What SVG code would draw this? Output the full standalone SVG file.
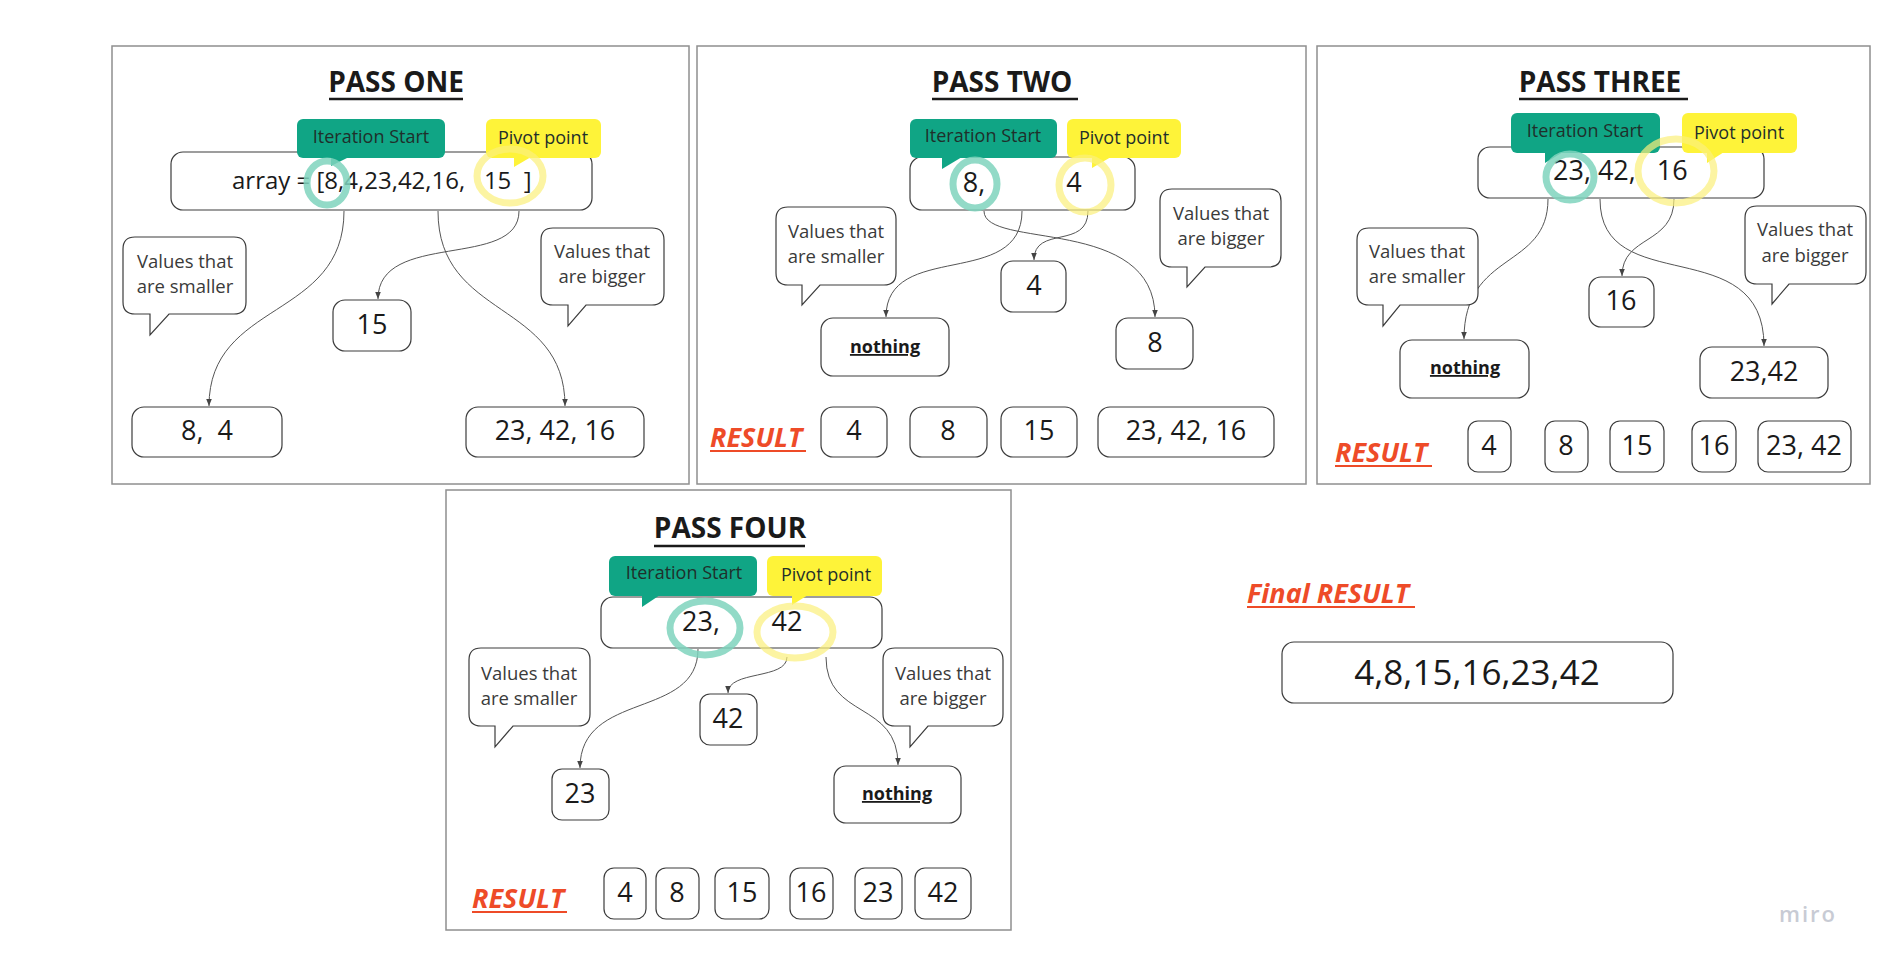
<svg xmlns="http://www.w3.org/2000/svg" width="1882" height="967" viewBox="0 0 1882 967">
<style>
text{font-family:"Open Sans","Liberation Sans",sans-serif}
.frame{fill:none;stroke:#8f8f8f;stroke-width:1.5}
.box{fill:#fff;stroke:#3c3c3c;stroke-width:1.2}
.bub{fill:#fff;stroke:#3c3c3c;stroke-width:1.2}
.title{font-weight:700;font-size:28px;fill:#1a1a1a;text-anchor:middle}
.ul{stroke:#1a1a1a;stroke-width:2.5}
.num{font-size:27px;fill:#1a1a1a;text-anchor:middle}
.big{font-size:35px;fill:#1a1a1a;text-anchor:middle}
.bt{font-size:18.5px;fill:#3a3a3a;text-anchor:middle}
.tagt{font-size:18px;fill:#1f2f2b;text-anchor:middle}
.teal{fill:#10a585}
.yel{fill:#fef339}
.inkT{fill:none;stroke:#7fd3bd;stroke-width:7;opacity:0.85}
.inkY{fill:none;stroke:#fbf07a;stroke-width:7;opacity:0.7}
.res{font-weight:700;font-style:italic;font-size:27px;fill:#ee4b28}
.resl{stroke:#ee4b28;stroke-width:2}
.nothing{font-weight:700;font-size:18px;fill:#1a1a1a;text-anchor:middle;text-decoration:underline}
.conn{fill:none;stroke:#555;stroke-width:1;marker-end:url(#arr)}
</style>
<defs>
<marker id="arr" viewBox="0 0 10 10" refX="10" refY="5" markerWidth="7" markerHeight="7" orient="auto" markerUnits="userSpaceOnUse"><path d="M0,1 L10,5 L0,9 z" fill="#444"/></marker>
</defs>
<rect width="1882" height="967" fill="#fff"/>

<g id="frames">
<rect class="frame" x="112" y="46" width="577" height="438"/>
<rect class="frame" x="697" y="46" width="609" height="438"/>
<rect class="frame" x="1317" y="46" width="553" height="438"/>
<rect class="frame" x="446" y="490" width="565" height="440"/>
</g>

<g id="connectors">
<path class="conn" d="M344,211 C344,320 209,300 209,406"/>
<path class="conn" d="M438,211 C438,320 565,300 565,406"/>
<path class="conn" d="M519,211 C519,270 378,230 378,299"/>
<path class="conn" d="M1022,211 C1022,290 886,240 886,317"/>
<path class="conn" d="M984,211 C984,250 1155,215 1155,317"/>
<path class="conn" d="M1088,211 C1088,250 1034,225 1034,260"/>
<path class="conn" d="M1548,199 C1548,270 1464,250 1464,339"/>
<path class="conn" d="M1600,199 C1600,300 1764,230 1764,346"/>
<path class="conn" d="M1674,199 C1674,245 1622,235 1622,276"/>
<path class="conn" d="M698,649 C698,720 580,690 580,768"/>
<path class="conn" d="M787,657 C787,680 728,670 728,693"/>
<path class="conn" d="M826,657 C826,720 898,700 898,765"/>
</g>

<!-- PASS ONE -->
<g id="p1-title"><text class="title" x="396" y="92">PASS ONE</text><line class="ul" x1="329" y1="99" x2="463" y2="99"/></g>
<g id="p1-array"><rect class="box" x="171" y="152" width="421" height="58" rx="12"/><text x="232" y="189" font-size="24" fill="#1a1a1a" xml:space="preserve">array = [8,4,23,42,16,   15  ]</text></g>
<g id="p1-iter"><rect class="teal" x="297" y="119" width="148" height="39" rx="6"/><polygon class="teal" points="331,157 331,166 349,157"/><text class="tagt" x="371" y="143">Iteration Start</text></g>
<g id="p1-pivot"><rect class="yel" x="486" y="119" width="115" height="39" rx="6"/><polygon class="yel" points="514,157 514,167 531,157"/><text class="tagt" x="543" y="144">Pivot point</text></g>
<g id="p1-smaller"><path class="bub" d="M135,237 H234 Q246,237 246,249 V302 Q246,314 234,314 H169 L150,335 V314 H135 Q123,314 123,302 V249 Q123,237 135,237 Z"/><text class="bt" x="185" y="268">Values that</text><text class="bt" x="185" y="293">are smaller</text></g>
<g id="p1-bigger"><path class="bub" d="M553,228 H652 Q664,228 664,240 V293 Q664,305 652,305 H586 L568,326 V305 H553 Q541,305 541,293 V240 Q541,228 553,228 Z"/><text class="bt" x="602" y="258">Values that</text><text class="bt" x="602" y="283">are bigger</text></g>
<g id="p1-15"><rect class="box" x="333" y="300" width="78" height="51" rx="12"/><text class="num" x="372" y="334">15</text></g>
<g id="p1-84"><rect class="box" x="132" y="407" width="150" height="50" rx="12"/><text class="num" x="207" y="440" xml:space="preserve">8,  4</text></g>
<g id="p1-234216"><rect class="box" x="466" y="407" width="178" height="50" rx="12"/><text class="num" x="555" y="440">23, 42, 16</text></g>
<g id="p1-ink"><ellipse class="inkT" cx="327" cy="183" rx="20" ry="22"/><ellipse class="inkY" cx="510" cy="176" rx="33" ry="27"/></g>

<!-- PASS TWO -->
<g id="p2-title"><text class="title" x="1002" y="92">PASS TWO</text><line class="ul" x1="932" y1="99" x2="1078" y2="99"/></g>
<g id="p2-top"><rect class="box" x="910" y="157" width="225" height="53" rx="12"/><text class="num" x="974" y="192">8,</text><text class="num" x="1074" y="192">4</text></g>
<g id="p2-iter"><rect class="teal" x="910" y="119" width="147" height="39" rx="6"/><polygon class="teal" points="942,157 942,169 962,157"/><text class="tagt" x="983" y="142">Iteration Start</text></g>
<g id="p2-pivot"><rect class="yel" x="1067" y="119" width="114" height="39" rx="6"/><polygon class="yel" points="1092,157 1092,168 1111,157"/><text class="tagt" x="1124" y="144">Pivot point</text></g>
<g id="p2-smaller"><path class="bub" d="M788,207 H884 Q896,207 896,219 V273 Q896,285 884,285 H820 L802,305 V285 H788 Q776,285 776,273 V219 Q776,207 788,207 Z"/><text class="bt" x="836" y="238">Values that</text><text class="bt" x="836" y="263">are smaller</text></g>
<g id="p2-bigger"><path class="bub" d="M1172,189 H1269 Q1281,189 1281,201 V255 Q1281,267 1269,267 H1205 L1187,287 V267 H1172 Q1160,267 1160,255 V201 Q1160,189 1172,189 Z"/><text class="bt" x="1221" y="220">Values that</text><text class="bt" x="1221" y="245">are bigger</text></g>
<g id="p2-4"><rect class="box" x="1001" y="261" width="65" height="51" rx="12"/><text class="num" x="1034" y="295">4</text></g>
<g id="p2-nothing"><rect class="box" x="821" y="318" width="128" height="58" rx="12"/><text class="nothing" x="885" y="353">nothing</text></g>
<g id="p2-8"><rect class="box" x="1116" y="318" width="77" height="51" rx="12"/><text class="num" x="1155" y="352">8</text></g>
<g id="p2-result"><text class="res" x="710" y="447">RESULT</text><line class="resl" x1="710" y1="451" x2="806" y2="451"/></g>
<g id="p2-r4"><rect class="box" x="821" y="407" width="66" height="50" rx="12"/><text class="num" x="854" y="440">4</text></g>
<g id="p2-r8"><rect class="box" x="910" y="407" width="77" height="50" rx="12"/><text class="num" x="948" y="440">8</text></g>
<g id="p2-r15"><rect class="box" x="1001" y="407" width="76" height="50" rx="12"/><text class="num" x="1039" y="440">15</text></g>
<g id="p2-rrest"><rect class="box" x="1098" y="407" width="176" height="50" rx="12"/><text class="num" x="1186" y="440">23, 42, 16</text></g>
<g id="p2-ink"><ellipse class="inkT" cx="975" cy="184" rx="22" ry="24"/><ellipse class="inkY" cx="1085" cy="185" rx="26" ry="27"/></g>

<!-- PASS THREE -->
<g id="p3-title"><text class="title" x="1600" y="92">PASS THREE</text><line class="ul" x1="1519" y1="99" x2="1688" y2="99"/></g>
<g id="p3-top"><rect class="box" x="1478" y="147" width="286" height="51" rx="12"/><text x="1553" y="180" font-size="27" fill="#1a1a1a" xml:space="preserve">23, 42,   16</text></g>
<g id="p3-iter"><rect class="teal" x="1511" y="113" width="149" height="40" rx="6"/><polygon class="teal" points="1545,152 1545,163 1563,152"/><text class="tagt" x="1585" y="137">Iteration Start</text></g>
<g id="p3-pivot"><rect class="yel" x="1682" y="113" width="115" height="40" rx="6"/><polygon class="yel" points="1707,152 1707,163 1724,152"/><text class="tagt" x="1739" y="139">Pivot point</text></g>
<g id="p3-smaller"><path class="bub" d="M1369,228 H1466 Q1478,228 1478,240 V293 Q1478,305 1466,305 H1400 L1383,326 V305 H1369 Q1357,305 1357,293 V240 Q1357,228 1369,228 Z"/><text class="bt" x="1417" y="258">Values that</text><text class="bt" x="1417" y="283">are smaller</text></g>
<g id="p3-bigger"><path class="bub" d="M1757,206 H1854 Q1866,206 1866,218 V272 Q1866,284 1854,284 H1789 L1772,304 V284 H1757 Q1745,284 1745,272 V218 Q1745,206 1757,206 Z"/><text class="bt" x="1805" y="236">Values that</text><text class="bt" x="1805" y="262">are bigger</text></g>
<g id="p3-16"><rect class="box" x="1589" y="277" width="65" height="50" rx="12"/><text class="num" x="1621" y="310">16</text></g>
<g id="p3-nothing"><rect class="box" x="1400" y="340" width="129" height="58" rx="12"/><text class="nothing" x="1465" y="374">nothing</text></g>
<g id="p3-2342"><rect class="box" x="1700" y="347" width="128" height="51" rx="12"/><text class="num" x="1764" y="381">23,42</text></g>
<g id="p3-result"><text class="res" x="1335" y="462">RESULT</text><line class="resl" x1="1335" y1="466" x2="1432" y2="466"/></g>
<g id="p3-r4"><rect class="box" x="1468" y="421" width="43" height="51" rx="10"/><text class="num" x="1489" y="455">4</text></g>
<g id="p3-r8"><rect class="box" x="1545" y="421" width="43" height="51" rx="10"/><text class="num" x="1566" y="455">8</text></g>
<g id="p3-r15"><rect class="box" x="1610" y="421" width="54" height="51" rx="10"/><text class="num" x="1637" y="455">15</text></g>
<g id="p3-r16"><rect class="box" x="1692" y="421" width="44" height="51" rx="10"/><text class="num" x="1714" y="455">16</text></g>
<g id="p3-rrest"><rect class="box" x="1758" y="421" width="93" height="51" rx="10"/><text class="num" x="1804" y="455">23, 42</text></g>
<g id="p3-ink"><ellipse class="inkT" cx="1570" cy="177" rx="24" ry="23"/><ellipse class="inkY" cx="1676" cy="171" rx="38" ry="32"/></g>

<!-- PASS FOUR -->
<g id="p4-title"><text class="title" x="730" y="538">PASS FOUR</text><line class="ul" x1="654" y1="546" x2="805" y2="546"/></g>
<g id="p4-top"><rect class="box" x="601" y="597" width="281" height="51" rx="12"/><text class="num" x="701" y="631">23,</text><text class="num" x="787" y="631">42</text></g>
<g id="p4-iter"><rect class="teal" x="609" y="556" width="148" height="40" rx="6"/><polygon class="teal" points="642,595 642,607 660,595"/><text class="tagt" x="684" y="579">Iteration Start</text></g>
<g id="p4-pivot"><rect class="yel" x="767" y="556" width="115" height="40" rx="6"/><polygon class="yel" points="792,595 792,605 808,595"/><text class="tagt" x="826" y="581">Pivot point</text></g>
<g id="p4-smaller"><path class="bub" d="M481,648 H578 Q590,648 590,660 V714 Q590,726 578,726 H513 L495,747 V726 H481 Q469,726 469,714 V660 Q469,648 481,648 Z"/><text class="bt" x="529" y="680">Values that</text><text class="bt" x="529" y="705">are smaller</text></g>
<g id="p4-bigger"><path class="bub" d="M895,648 H991 Q1003,648 1003,660 V714 Q1003,726 991,726 H928 L910,747 V726 H895 Q883,726 883,714 V660 Q883,648 895,648 Z"/><text class="bt" x="943" y="680">Values that</text><text class="bt" x="943" y="705">are bigger</text></g>
<g id="p4-42"><rect class="box" x="700" y="694" width="57" height="51" rx="10"/><text class="num" x="728" y="728">42</text></g>
<g id="p4-23"><rect class="box" x="552" y="769" width="57" height="51" rx="10"/><text class="num" x="580" y="803">23</text></g>
<g id="p4-nothing"><rect class="box" x="834" y="766" width="127" height="57" rx="12"/><text class="nothing" x="897" y="800">nothing</text></g>
<g id="p4-result"><text class="res" x="472" y="908">RESULT</text><line class="resl" x1="472" y1="912" x2="567" y2="912"/></g>
<g id="p4-r4"><rect class="box" x="604" y="868" width="42" height="51" rx="10"/><text class="num" x="625" y="902">4</text></g>
<g id="p4-r8"><rect class="box" x="656" y="868" width="43" height="51" rx="10"/><text class="num" x="677" y="902">8</text></g>
<g id="p4-r15"><rect class="box" x="715" y="868" width="54" height="51" rx="10"/><text class="num" x="742" y="902">15</text></g>
<g id="p4-r16"><rect class="box" x="790" y="868" width="43" height="51" rx="10"/><text class="num" x="811" y="902">16</text></g>
<g id="p4-r23"><rect class="box" x="855" y="868" width="47" height="51" rx="10"/><text class="num" x="878" y="902">23</text></g>
<g id="p4-r42"><rect class="box" x="915" y="868" width="56" height="51" rx="10"/><text class="num" x="943" y="902">42</text></g>
<g id="p4-ink"><ellipse class="inkT" cx="705" cy="628" rx="35" ry="27"/><ellipse class="inkY" cx="795" cy="632" rx="38" ry="26"/></g>

<!-- FINAL -->
<g id="final-label"><text class="res" x="1247" y="603">Final RESULT</text><line class="resl" x1="1247" y1="607" x2="1415" y2="607"/></g>
<g id="final-box"><rect class="box" x="1282" y="642" width="391" height="61" rx="12"/><text class="big" x="1477" y="685">4,8,15,16,23,42</text></g>
<text x="1779" y="922" font-size="22" font-weight="600" fill="#c8cbd4" letter-spacing="2">miro</text>
</svg>
